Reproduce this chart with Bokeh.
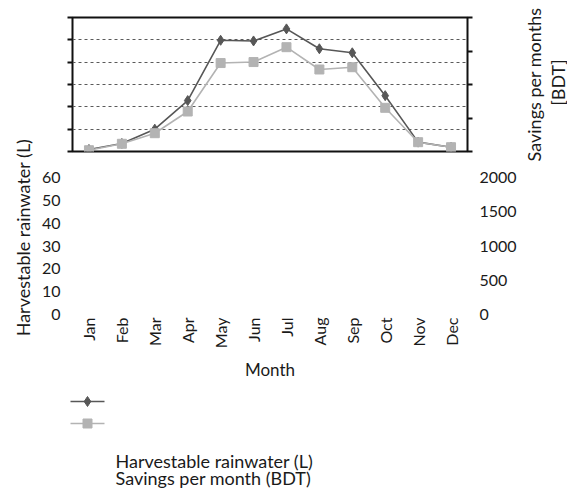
import math
from bokeh.plotting import figure
from bokeh.layouts import row, column
from bokeh.models import Range1d, FactorRange, LinearAxis, CategoricalAxis, FixedTicker, Grid
from bokeh.core.properties import value
from bokeh.embed import file_html
from bokeh.resources import INLINE

# Monthly values
months = ["Jan", "Feb", "Mar", "Apr", "May", "Jun", "Jul", "Aug", "Sep", "Oct", "Nov", "Dec"]
rainwater = [0.9, 3.6, 10.0, 22.8, 49.8, 49.5, 54.9, 46.0, 44.2, 25.0, 4.2, 1.9]
savings = [19, 115, 273, 597, 1320, 1335, 1557, 1224, 1258, 652, 139, 64]

rain_ticks = [0, 10, 20, 30, 40, 50, 60]
saving_ticks = [0, 500, 1000, 1500, 2000]
grid_ticks = [10, 20, 30, 40, 50]

rain_title = "Harvestable rainwater (L)"
saving_title = ["Savings per months", "[BDT]"]
series_names = ["Harvestable rainwater (L)", "Savings per month (BDT)"]
x_title = "Month"

# Page geometry (pixels)
W, H = 567, 492
LEFT_W, RIGHT_W = 38, 48          # side strips holding the rotated titles
MID_W = W - LEFT_W - RIGHT_W
BOX_L, BOX_R = 70, 468            # plotting area, page x
TOP_H, SCALE_H = 160, 225         # boxed chart strip, detached-scale strip
UPPER_H = TOP_H + SCALE_H
BOTTOM_H = H - UPPER_H

FONT = "Lato"
TXT = "#1a1a1a"
DARK = "#575757"
LIGHT = "#b3b3b3"
rain_max, sav_max = rain_ticks[-1], saving_ticks[-1]


def base_fig(width, height, **kw):
    f = figure(width=width, height=height, output_backend="svg", toolbar_location=None,
               x_axis_location=None, y_axis_location=None, **kw)
    f.grid.visible = False
    f.outline_line_color = None
    f.background_fill_color = "white"
    f.border_fill_color = "white"
    return f


# ---- boxed line chart -------------------------------------------------------
top = base_fig(MID_W, TOP_H,
               x_range=FactorRange(factors=months, range_padding=0),
               y_range=Range1d(0, rain_max),
               min_border_left=BOX_L - LEFT_W, min_border_right=LEFT_W + MID_W - BOX_R,
               min_border_top=17, min_border_bottom=TOP_H - 151)
top.extra_y_ranges = {"sav": Range1d(0, sav_max)}
top.outline_line_color = "#111111"
top.outline_line_width = 2
top.add_layout(Grid(dimension=1, ticker=FixedTicker(ticks=grid_ticks),
                    grid_line_color="#5a5a5a", grid_line_dash="3 3", grid_line_width=1),
               "center")


def tick_axis(ticks, rng=None):
    kw = dict(ticker=FixedTicker(ticks=ticks), axis_line_color=None,
              major_tick_out=5, major_tick_in=0, major_tick_line_width=2,
              major_tick_line_color="#111111", minor_tick_line_color=None,
              major_label_overrides={t: "" for t in ticks}, major_label_standoff=0)
    if rng:
        kw["y_range_name"] = rng
    return LinearAxis(**kw)


top.add_layout(tick_axis(rain_ticks), "left")
top.add_layout(tick_axis(saving_ticks, "sav"), "right")

top.line(months, rainwater, line_color=DARK, line_width=1.6)
top.scatter(months, rainwater, marker="diamond", size=10, fill_color=DARK, line_color=DARK)
top.line(months, savings, y_range_name="sav", line_color=LIGHT, line_width=1.6)
top.scatter(months, savings, y_range_name="sav", marker="square", size=9,
            fill_color=LIGHT, line_color=LIGHT)

# ---- detached scales and month axis ----------------------------------------
mid = base_fig(MID_W, SCALE_H,
               x_range=FactorRange(factors=months, range_padding=0),
               y_range=Range1d(0, rain_max),
               min_border_left=BOX_L - LEFT_W, min_border_right=LEFT_W + MID_W - BOX_R,
               min_border_top=17, min_border_bottom=SCALE_H - 17 - 137)
mid.extra_y_ranges = {"sav": Range1d(0, sav_max)}


def label_axis(ticks, rng=None):
    kw = dict(ticker=FixedTicker(ticks=ticks), axis_line_color=None,
              major_tick_line_color=None, minor_tick_line_color=None,
              major_tick_out=0, major_tick_in=0, major_label_standoff=12,
              major_label_text_font=FONT, major_label_text_font_size="16px",
              major_label_text_color=TXT)
    if rng:
        kw["y_range_name"] = rng
    return LinearAxis(**kw)


mid.add_layout(label_axis(rain_ticks), "left")
mid.add_layout(label_axis(saving_ticks, "sav"), "right")
mid.add_layout(CategoricalAxis(axis_line_color=None, major_tick_line_color=None,
                               major_tick_out=0, major_tick_in=0,
                               major_label_orientation=math.pi / 2, major_label_standoff=3,
                               major_label_text_font=FONT, major_label_text_font_size="16px",
                               major_label_text_color=TXT,
                               axis_label=x_title, axis_label_standoff=8,
                               axis_label_text_font=FONT, axis_label_text_font_size="17px",
                               axis_label_text_font_style="normal",
                               axis_label_text_color=TXT), "below")

# ---- rotated axis titles ----------------------------------------------------
left = base_fig(LEFT_W, UPPER_H, x_range=Range1d(0, LEFT_W), y_range=Range1d(UPPER_H, 0),
                min_border=0)
left.text(x=[22], y=[237], text=[rain_title], angle=math.pi / 2, text_align="center",
          text_baseline="middle", text_font=value(FONT), text_font_size="18px",
          text_color=TXT)

right = base_fig(RIGHT_W, UPPER_H, x_range=Range1d(0, RIGHT_W), y_range=Range1d(UPPER_H, 0),
                 min_border=0)
right.text(x=[533 - (W - RIGHT_W), 557 - (W - RIGHT_W)], y=[84, 82], text=saving_title,
           angle=math.pi / 2, text_align="center", text_baseline="middle",
           text_font=value(FONT), text_font_size="18px", text_color=TXT)

# ---- legend: symbol rows, with the series names set underneath ---------------
KEY_X0, KEY_X1 = 70, 104
KEY_ROWS = [401 - UPPER_H, 423 - UPPER_H]
bottom = base_fig(W, BOTTOM_H, x_range=Range1d(0, W), y_range=Range1d(BOTTOM_H, 0),
                  min_border=0)
key_style = [(DARK, "diamond", 10), (LIGHT, "square", 9)]
for yk, (col, mk, sz) in zip(KEY_ROWS, key_style):
    bottom.segment(x0=[KEY_X0], y0=[yk], x1=[KEY_X1], y1=[yk], line_color=col, line_width=1.6)
    bottom.scatter(x=[(KEY_X0 + KEY_X1) / 2], y=[yk], marker=mk, size=sz,
                   fill_color=col, line_color=col)
bottom.text(x=[115, 115], y=[460 - UPPER_H, 477 - UPPER_H], text=series_names,
            text_align="left", text_baseline="middle", text_font=value(FONT),
            text_font_size="18px", text_color=TXT)

layout = column(row(left, column(top, mid, spacing=0), right, spacing=0), bottom, spacing=0)

open("out.html", "w").write(file_html(layout, INLINE))
